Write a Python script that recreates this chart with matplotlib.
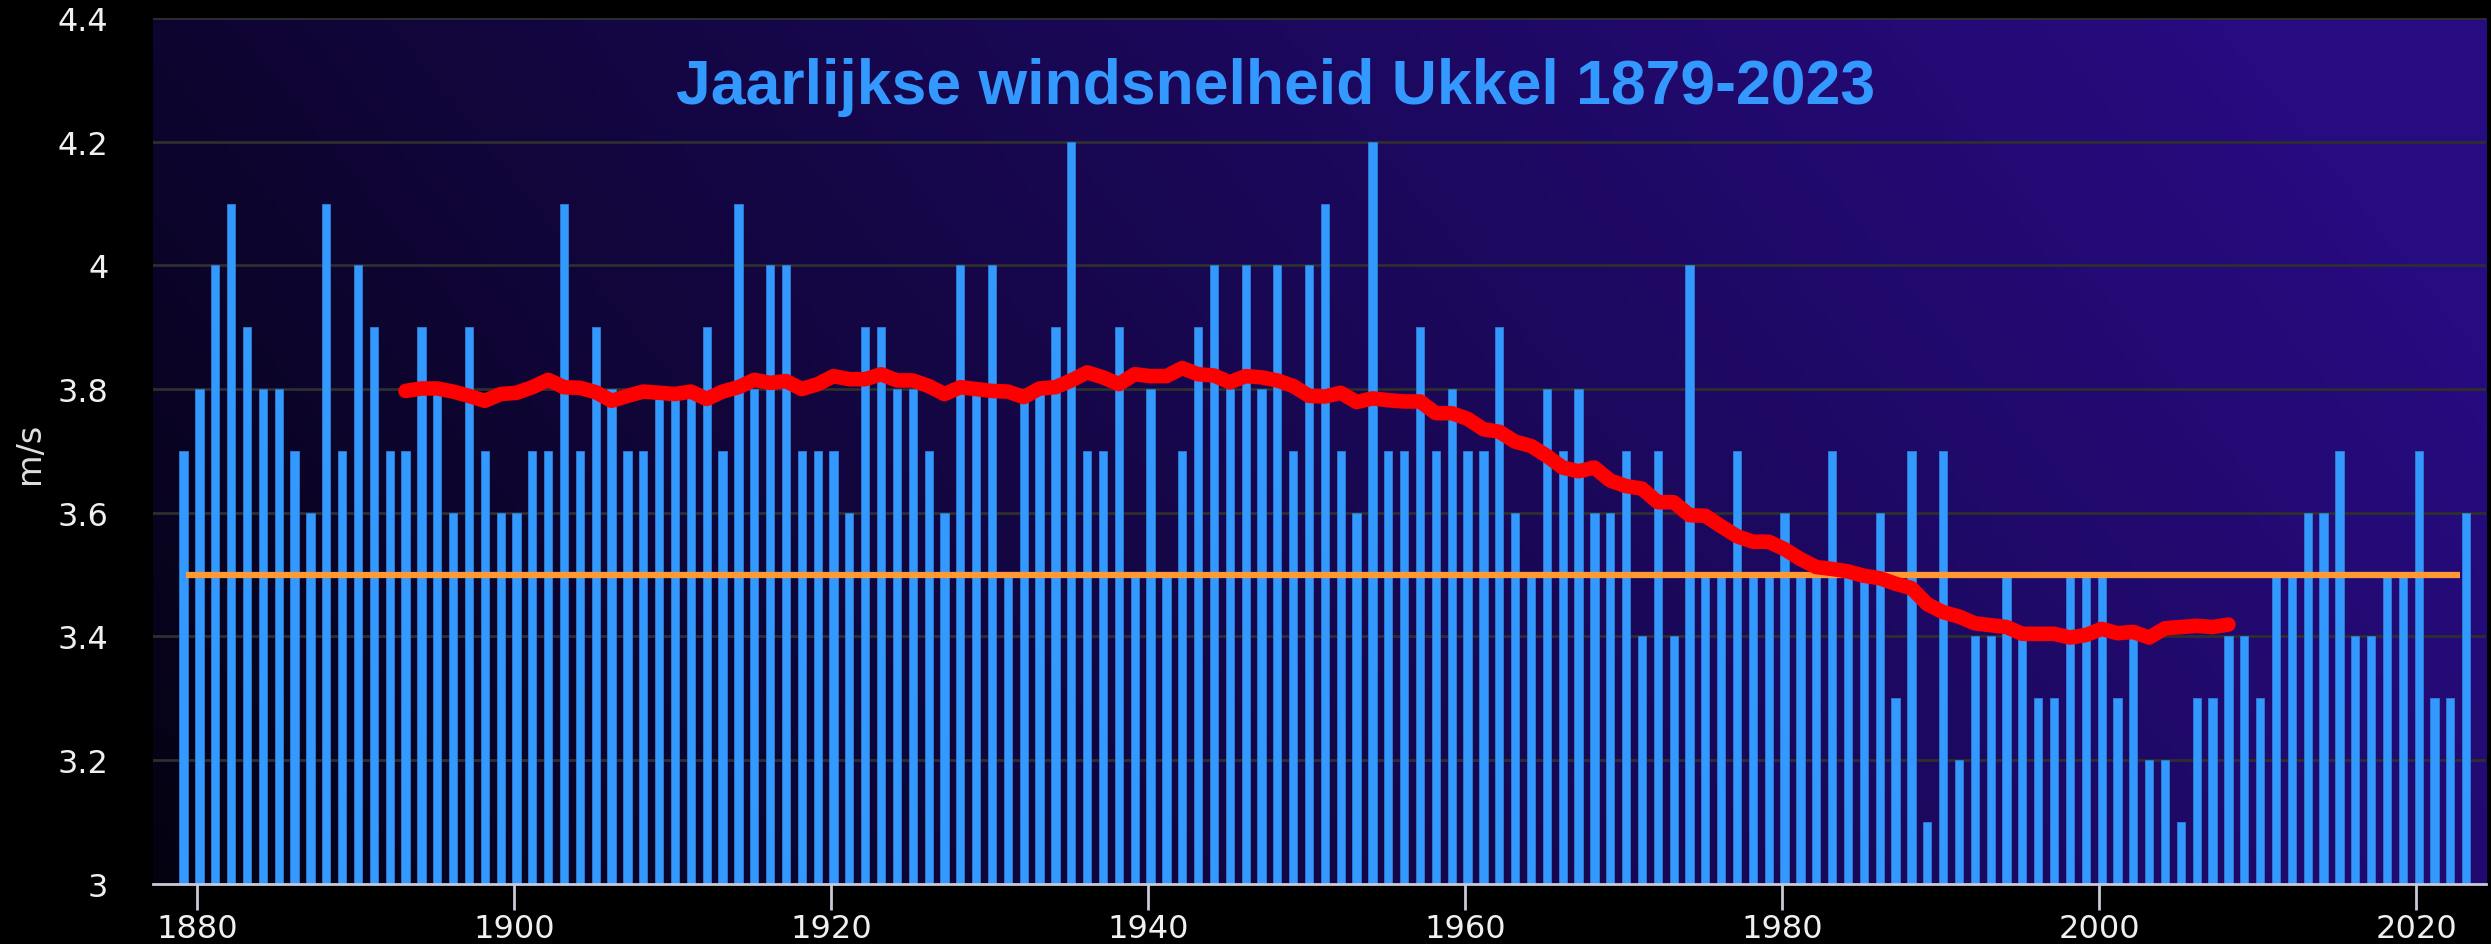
import numpy as np
import matplotlib
matplotlib.use("Agg")
import matplotlib.pyplot as plt
from matplotlib.colors import to_rgb

# yearly mean wind speed Ukkel (m/s)
years = np.arange(1879, 2024)
speed = [
    3.7, 3.8, 4.0, 4.1, 3.9, 3.8, 3.8, 3.7, 3.6, 4.1,   # 1879-1888
    3.7, 4.0, 3.9, 3.7, 3.7, 3.9, 3.8, 3.6, 3.9, 3.7,   # 1889-1898
    3.6, 3.6, 3.7, 3.7, 4.1, 3.7, 3.9, 3.8, 3.7, 3.7,   # 1899-1908
    3.8, 3.8, 3.8, 3.9, 3.7, 4.1, 3.8, 4.0, 4.0, 3.7,   # 1909-1918
    3.7, 3.7, 3.6, 3.9, 3.9, 3.8, 3.8, 3.7, 3.6, 4.0,   # 1919-1928
    3.8, 4.0, 3.5, 3.8, 3.8, 3.9, 4.2, 3.7, 3.7, 3.9,   # 1929-1938
    3.5, 3.8, 3.5, 3.7, 3.9, 4.0, 3.8, 4.0, 3.8, 4.0,   # 1939-1948
    3.7, 4.0, 4.1, 3.7, 3.6, 4.2, 3.7, 3.7, 3.9, 3.7,   # 1949-1958
    3.8, 3.7, 3.7, 3.9, 3.6, 3.5, 3.8, 3.7, 3.8, 3.6,   # 1959-1968
    3.6, 3.7, 3.4, 3.7, 3.4, 4.0, 3.5, 3.5, 3.7, 3.5,   # 1969-1978
    3.5, 3.6, 3.5, 3.5, 3.7, 3.5, 3.5, 3.6, 3.3, 3.7,   # 1979-1988
    3.1, 3.7, 3.2, 3.4, 3.4, 3.5, 3.4, 3.3, 3.3, 3.5,   # 1989-1998
    3.5, 3.5, 3.3, 3.4, 3.2, 3.2, 3.1, 3.3, 3.3, 3.4,   # 1999-2008
    3.4, 3.3, 3.5, 3.5, 3.6, 3.6, 3.7, 3.4, 3.4, 3.5,   # 2009-2018
    3.5, 3.7, 3.3, 3.3, 3.6,                             # 2019-2023
]

# 30-year running mean as drawn
trend_years = np.arange(1893, 2009)
trend = [
    3.797, 3.801, 3.801, 3.796, 3.789, 3.781, 3.792, 3.794, 3.803, 3.815,  # 1893-1902
    3.803, 3.802, 3.795, 3.781, 3.789, 3.796, 3.794, 3.792, 3.796, 3.784,  # 1903-1912
    3.796, 3.803, 3.815, 3.810, 3.813, 3.800, 3.808, 3.821, 3.816, 3.816,  # 1913-1922
    3.824, 3.814, 3.814, 3.805, 3.792, 3.803, 3.800, 3.797, 3.796, 3.787,  # 1923-1932
    3.801, 3.803, 3.814, 3.827, 3.819, 3.808, 3.824, 3.821, 3.821, 3.834,  # 1933-1942
    3.824, 3.822, 3.811, 3.821, 3.819, 3.814, 3.805, 3.789, 3.788, 3.794,  # 1943-1952
    3.779, 3.785, 3.782, 3.780, 3.780, 3.761, 3.761, 3.752, 3.735, 3.731,  # 1953-1962
    3.715, 3.708, 3.692, 3.673, 3.667, 3.673, 3.652, 3.643, 3.639, 3.617,  # 1963-1972
    3.617, 3.596, 3.595, 3.578, 3.562, 3.553, 3.553, 3.541, 3.525, 3.512,  # 1973-1982
    3.509, 3.505, 3.498, 3.494, 3.485, 3.478, 3.452, 3.439, 3.432, 3.421,  # 1983-1992
    3.418, 3.415, 3.404, 3.404, 3.404, 3.398, 3.402, 3.412, 3.405, 3.407,  # 1993-2002
    3.398, 3.413, 3.415, 3.417, 3.415, 3.419,                              # 2003-2008
]

normal_value = 3.5
normal_span = [1879.3, 2022.75]

fig = plt.figure(figsize=(24.91, 9.45), dpi=100, facecolor="black")
ax = fig.add_axes([0.0613, 0.064, 0.9367, 0.9156])
ax.set_xlim(1877.2, 2024.4)
ax.set_ylim(3, 4.4)

# gradient background: dark bottom-left to purple-blue top-right
c0 = np.array(to_rgb("#040210"))
c1 = np.array(to_rgb("#270b80"))
gx, gy = np.meshgrid(np.linspace(0, 1, 400), np.linspace(0, 1, 200))
t = np.clip(0.85 * gx + 0.25 * gy, 0, 1) ** 0.9
img = c0 + (c1 - c0) * t[..., None]
ax.imshow(img, extent=[0, 1, 0, 1], transform=ax.transAxes, origin="lower",
          aspect="auto", zorder=0)

ax.set_yticks(np.arange(3, 4.41, 0.2))
ax.set_yticklabels(["3", "3.2", "3.4", "3.6", "3.8", "4", "4.2", "4.4"])
ax.grid(axis="y", color="#2e2e2e", linewidth=2, zorder=1)
ax.set_axisbelow(True)

ax.bar(years + 0.15, speed, width=0.52, color="#3399ff",
       edgecolor="#2b7fd6", linewidth=0.6, zorder=2)
ax.plot(normal_span, [normal_value, normal_value], color="#ff9933",
        linewidth=4.5, solid_capstyle="butt", zorder=3)
ax.plot(trend_years + 0.15, trend, color="#ff0000", linewidth=10.5,
        solid_capstyle="round", solid_joinstyle="round", zorder=4)

ax.set_xticks([1880, 1900, 1920, 1940, 1960, 1980, 2000, 2020])
ax.tick_params(axis="x", colors="#c8c8d8", length=19, width=2,
               labelsize=23, labelcolor="#f0f0f0", pad=2)
ax.tick_params(axis="y", length=0, labelsize=23, labelcolor="#f0f0f0", pad=32)

for s in ["top", "right", "left"]:
    ax.spines[s].set_visible(False)
ax.spines["bottom"].set_color("#c8c8d8")
ax.spines["bottom"].set_linewidth(2)

fig.text(0.012, 0.52, "m/s", rotation=90, color="#e0e0e0", fontsize=24,
         va="center", ha="center")

fig.text(0.512, 0.907, "Jaarlijkse windsnelheid Ukkel 1879-2023",
         color="#3399ff", fontsize=45, fontweight="bold",
         family=["Liberation Sans", "DejaVu Sans"], ha="center", va="center")

fig.savefig("out.png", dpi=100, facecolor="black")
